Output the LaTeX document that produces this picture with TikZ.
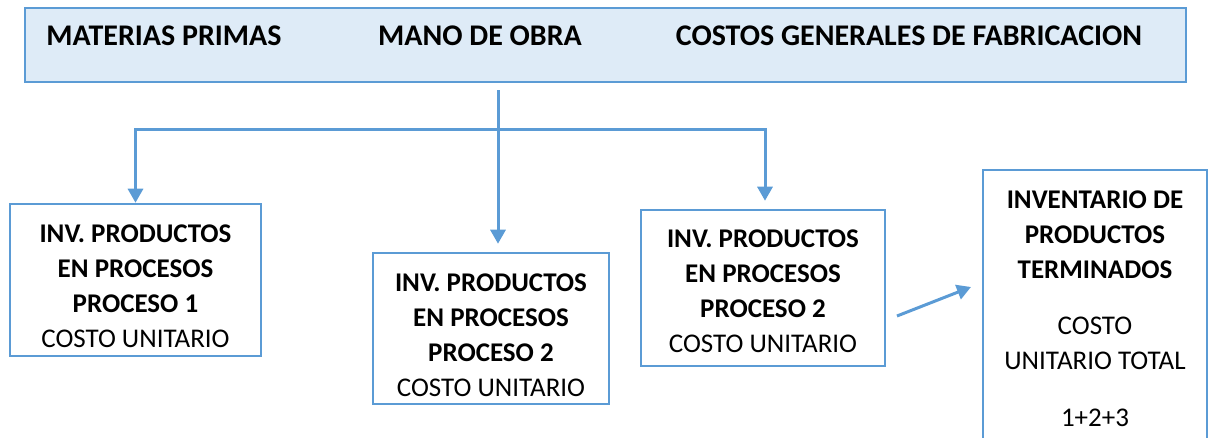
\documentclass[tikz,border=0pt]{standalone}
\usepackage{fontspec}
\setmainfont{Carlito}
\usetikzlibrary{arrows.meta}
\definecolor{azul}{RGB}{91,155,213}
\definecolor{celeste}{RGB}{222,235,247}
\begin{document}
\begin{tikzpicture}[x=1pt, y=-1pt,
    caja/.style={draw=azul, line width=2.5pt, inner sep=0pt},
    texto/.style={align=center, inner sep=0pt, font=\fontsize{27}{35}\selectfont},
    titulo/.style={anchor=base, font=\fontsize{30}{36}\selectfont\bfseries},
    flecha/.style={draw=azul, line width=3pt, -{Triangle[length=14pt, width=15pt]}}]
    \useasboundingbox (0,0) rectangle (1211,438);
    \clip (0,0) rectangle (1211,438);
% top band
\node[caja, fill=celeste, minimum width=1161, minimum height=74] (costos) at (605.5,45) {};
\node[titulo] (mp) at (164,46) {MATERIAS PRIMAS};
\node[titulo] (mo) at (480,46) {MANO DE OBRA};
\node[titulo] (cgf) at (909,46) {COSTOS GENERALES DE FABRICACION};
% processes
\node[caja, minimum width=251, minimum height=152] (proc1) at (135.5,280) {};
\node[texto] (t1) at ([yshift=-6pt]proc1.center)
    {\textbf{INV. PRODUCTOS}\\\textbf{EN PROCESOS}\\\textbf{PROCESO 1}\\COSTO UNITARIO};
\node[caja, minimum width=236, minimum height=151] (proc2) at (491,328.5) {};
\node[texto] (t2) at ([yshift=-7pt]proc2.center)
    {\textbf{INV. PRODUCTOS}\\\textbf{EN PROCESOS}\\\textbf{PROCESO 2}\\COSTO UNITARIO};
\node[caja, minimum width=244, minimum height=156] (proc3) at (763,288) {};
\node[texto] (t3) at ([yshift=-3pt]proc3.center)
    {\textbf{INV. PRODUCTOS}\\\textbf{EN PROCESOS}\\\textbf{PROCESO 2}\\COSTO UNITARIO};
\node[caja, minimum width=224, minimum height=280] (term) at (1095,310) {};
\node[texto] (t4) at (1095,309)
    {\textbf{INVENTARIO DE}\\\textbf{PRODUCTOS}\\\textbf{TERMINADOS}\\[21pt]COSTO\\UNITARIO TOTAL\\[22pt]1+2+3};
% connectors
\coordinate (bus) at (498,130);
\draw[flecha, shorten <=7pt, shorten >=8pt] (costos.south -| bus) -- (proc2.north -| bus);
\draw[flecha] (bus) -| (proc1.north);
\draw[flecha, shorten >=8pt] (bus) -| ([xshift=2pt]proc3.north);
\coordinate (sal) at (897,316);
\coordinate (ent) at (971,287);
\draw[flecha] (sal) -- (ent);
\end{tikzpicture}
\end{document}
